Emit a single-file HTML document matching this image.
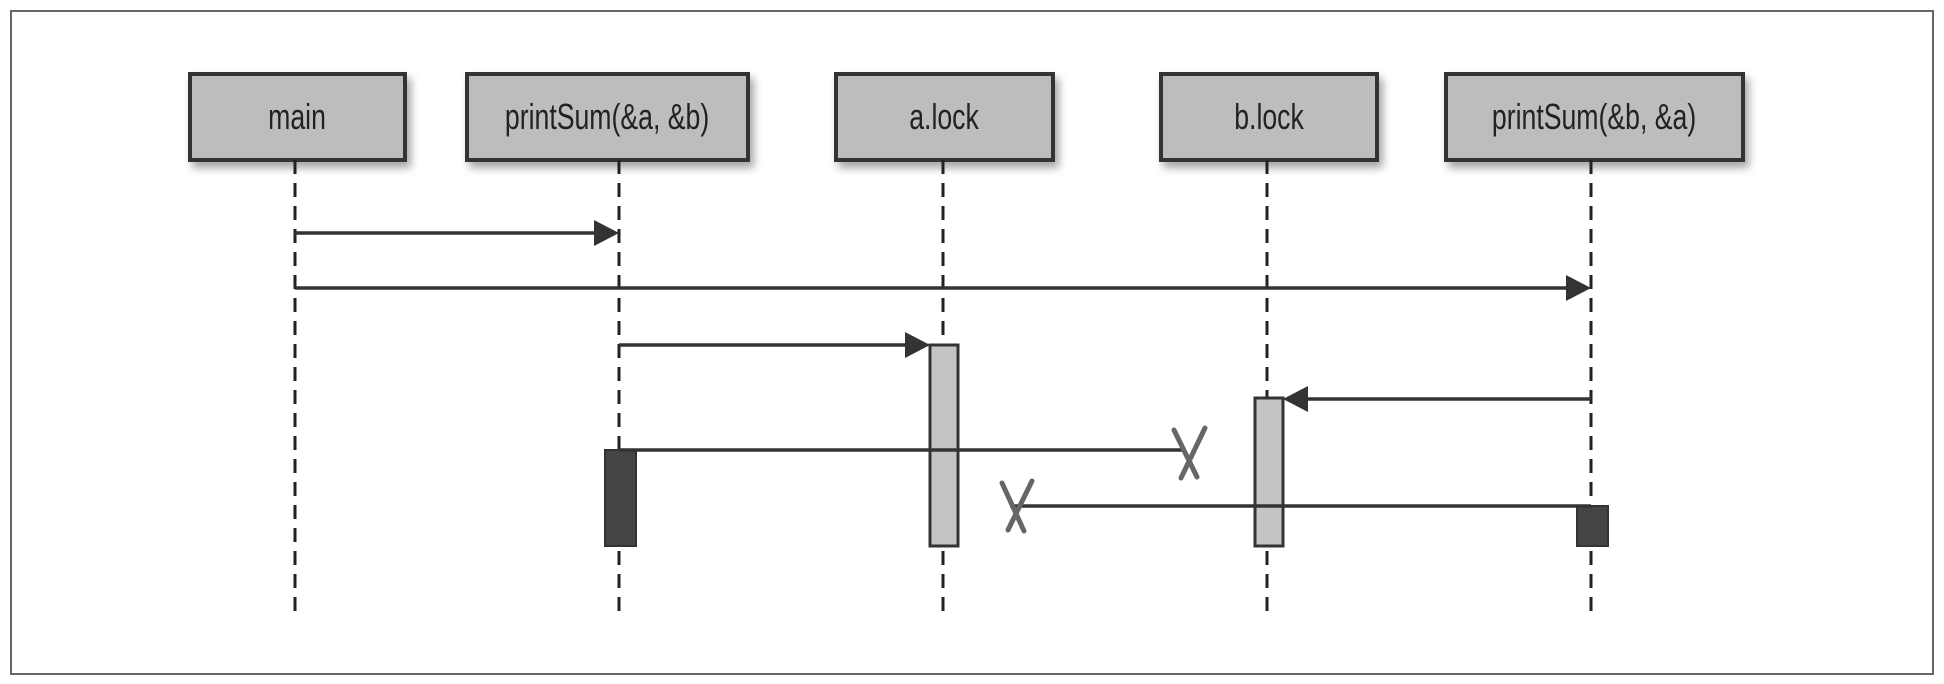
<!DOCTYPE html>
<html><head><meta charset="utf-8"><style>
html,body{margin:0;padding:0;background:#fff;}
body{width:1944px;height:684px;position:relative;overflow:hidden;font-family:"Liberation Sans",sans-serif;}
.frame{position:absolute;left:10px;top:10px;width:1920px;height:661px;border:2px solid #666;}
.box{position:absolute;top:72px;height:82px;background:#bdbdbd;border:4px solid #333;box-shadow:4px 6px 8px rgba(0,0,0,0.35);display:flex;align-items:center;justify-content:center;}
.box span{display:inline-block;font-size:36px;color:#222;transform:scaleX(0.74);white-space:nowrap;}
</style></head><body>
<div class="frame"></div>
<div class="box" style="left:188px;width:211px;"><span>main</span></div>
<div class="box" style="left:465px;width:277px;"><span>printSum(&amp;a, &amp;b)</span></div>
<div class="box" style="left:834px;width:213px;"><span>a.lock</span></div>
<div class="box" style="left:1159px;width:212px;"><span>b.lock</span></div>
<div class="box" style="left:1444px;width:293px;"><span>printSum(&amp;b, &amp;a)</span></div>
<svg width="1944" height="684" style="position:absolute;left:0;top:0">
<g stroke="#222" stroke-width="3" stroke-dasharray="14,9" fill="none">
<line x1="295" y1="160" x2="295" y2="618"/>
<line x1="619" y1="160" x2="619" y2="618"/>
<line x1="943" y1="160" x2="943" y2="618"/>
<line x1="1267" y1="160" x2="1267" y2="618"/>
<line x1="1591" y1="160" x2="1591" y2="618"/>
</g>
<rect x="930" y="345" width="28" height="201" fill="#c4c4c4" stroke="#333" stroke-width="3"/>
<rect x="1255" y="398" width="28" height="148" fill="#c4c4c4" stroke="#333" stroke-width="3"/>
<rect x="605" y="450" width="31" height="96" fill="#444" stroke="#333" stroke-width="2"/>
<rect x="1577" y="506" width="31" height="40" fill="#444" stroke="#333" stroke-width="2"/>
<g stroke="#333" stroke-width="3.5" fill="none">
<line x1="295" y1="233" x2="600" y2="233"/>
<line x1="295" y1="288" x2="1572" y2="288"/>
<line x1="619" y1="345" x2="912" y2="345"/>
<line x1="1591" y1="399" x2="1302" y2="399"/>
<line x1="619" y1="450" x2="1185" y2="450"/>
<line x1="1591" y1="506" x2="1010" y2="506"/>
</g>
<g fill="#333">
<polygon points="619,233 594,220 594,246"/>
<polygon points="1591,288 1566,275 1566,301"/>
<polygon points="930,345 905,332 905,358"/>
<polygon points="1283,399 1308,386 1308,412"/>
</g>
<g stroke="#666" stroke-width="5" fill="none" stroke-linecap="round">
<line x1="1174" y1="430" x2="1197" y2="477"/>
<line x1="1205" y1="428" x2="1181" y2="478"/>
<line x1="1002" y1="483" x2="1024" y2="531"/>
<line x1="1032" y1="481" x2="1008" y2="530"/>
</g>
</svg>
</body></html>
